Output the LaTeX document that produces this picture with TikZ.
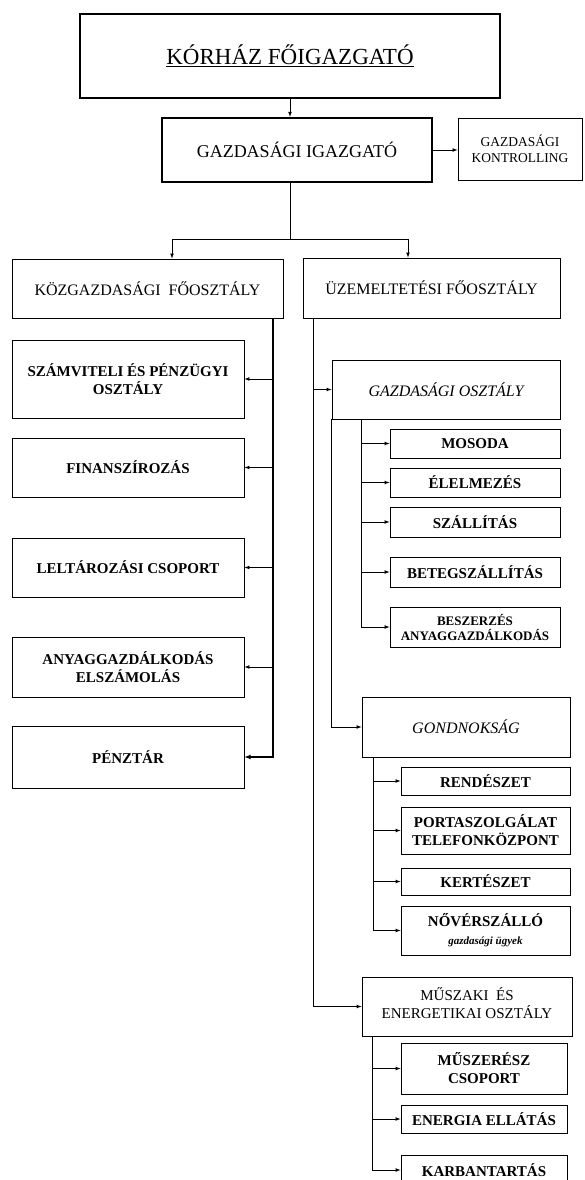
\documentclass[tikz,border=0pt]{standalone}
\usepackage{fontspec}
\setmainfont{Liberation Serif}
\tikzset{
  >=latex,
}
\tikzstyle{head}=[draw,line width=2.4pt,align=center,font=\fontsize{18}{21}\selectfont]
\tikzstyle{unit}=[draw,line width=0.9pt,align=center,inner sep=1pt,font=\fontsize{16}{19}\selectfont]
\tikzstyle{sub}=[unit,font=\bfseries\fontsize{15}{18}\selectfont]
\tikzstyle{link}=[->,line width=0.7pt]
\tikzstyle{spine}=[->,line width=1.1pt]

\begin{document}
\begin{tikzpicture}[x=1pt,y=-1pt]
    \useasboundingbox (0,0) rectangle (584,1180);
    % top level
    \node[head,minimum width=420pt,minimum height=84pt,font=\fontsize{23}{26}\selectfont]
      (fo) at (290,56) {\underline{KÓRHÁZ FŐIGAZGATÓ}};
    \node[head,minimum width=270pt,minimum height=64pt] (gi) at (297,150) {GAZDASÁGI IGAZGATÓ};
    \node[unit,minimum width=124pt,minimum height=62pt,font=\fontsize{13.5}{16}\selectfont]
      (gk) at (520,149) {GAZDASÁGI\\KONTROLLING};
    \draw[link] (fo.south) -- (fo.south |- gi.north);
    \draw[link] (gi.east) -- (gi.east -| gk.west);

    % the two main departments
    \node[unit,minimum width=271pt,minimum height=59pt] (kf) at (147.5,288.5) {KÖZGAZDASÁGI\ \ FŐOSZTÁLY};
    \node[unit,minimum width=257pt,minimum height=60pt] (uf) at (431.5,288) {ÜZEMELTETÉSI FŐOSZTÁLY};
    \coordinate (split) at (290,239);
    \coordinate (kfin) at (172,0);
    \coordinate (ufin) at (408,0);
    \draw[line width=0.7pt] (fo.south |- gi.south) -- (split);
    \draw[link] (split) -| (kfin |- kf.north);
    \draw[link] (split) -| (ufin |- uf.north);

    % left column
    \node[sub,minimum width=232pt,minimum height=78pt] (szamv) at (128,379) {SZÁMVITELI ÉS PÉNZÜGYI\\OSZTÁLY};
    \node[sub,minimum width=232pt,minimum height=59pt] (fin) at (128,467.5) {FINANSZÍROZÁS};
    \node[sub,minimum width=232pt,minimum height=59pt] (lelt) at (128,567.5) {LELTÁROZÁSI CSOPORT};
    \node[sub,minimum width=232pt,minimum height=60pt] (anyag) at (128,667) {ANYAGGAZDÁLKODÁS\\ELSZÁMOLÁS};
    \node[sub,minimum width=232pt,minimum height=62pt] (penz) at (128,757) {PÉNZTÁR};
    \coordinate (kspine) at (273,0);
    \draw[spine] (kspine |- kf.south) |- (penz.east);
    \draw[link] (kspine |- szamv.east) -- (szamv.east);
    \draw[link] (kspine |- fin.east) -- (fin.east);
    \draw[link] (kspine |- lelt.east) -- (lelt.east);
    \draw[link] (kspine |- anyag.east) -- (anyag.east);

    % right column
    \node[unit,minimum width=228pt,minimum height=59pt,font=\itshape\fontsize{16}{19}\selectfont]
      (gazd) at (446,389.5) {GAZDASÁGI OSZTÁLY};
    \node[unit,minimum width=208pt,minimum height=60pt,font=\itshape\fontsize{16}{19}\selectfont]
      (gond) at (466,727) {GONDNOKSÁG};
    \node[unit,minimum width=210pt,minimum height=59pt,font=\fontsize{15}{18}\selectfont,text height=24pt]
      (msz) at (467,1006.5) {MŰSZAKI\ \ ÉS\\ENERGETIKAI OSZTÁLY};
    \coordinate (uspine) at (313,0);
    \draw[link] (uspine |- uf.south) |- (msz.west);
    \draw[link] (uspine |- gazd.west) -- (gazd.west);
    \draw[link] (gazd.south west) |- (gond.west);

    % gazdasagi osztaly
    \node[sub,minimum width=170pt,minimum height=29pt] (mos) at (475,443.5) {MOSODA};
    \node[sub,minimum width=170pt,minimum height=29pt] (elel) at (475,482.5) {ÉLELMEZÉS};
    \node[sub,minimum width=170pt,minimum height=30pt] (szall) at (475,522) {SZÁLLÍTÁS};
    \node[sub,minimum width=170pt,minimum height=30pt] (beteg) at (475,572) {BETEGSZÁLLÍTÁS};
    \node[sub,minimum width=170pt,minimum height=40pt,font=\bfseries\fontsize{13}{15}\selectfont]
      (besz) at (475,627) {BESZERZÉS\\ANYAGGAZDÁLKODÁS};
    \coordinate (gspine) at (361,0);
    \draw[link] (gspine |- gazd.south) |- (besz.west);
    \draw[link] (gspine |- mos.west) -- (mos.west);
    \draw[link] (gspine |- elel.west) -- (elel.west);
    \draw[link] (gspine |- szall.west) -- (szall.west);
    \draw[link] (gspine |- beteg.west) -- (beteg.west);

    % gondnoksag
    \node[sub,minimum width=169pt,minimum height=28pt] (rend) at (485.5,781) {RENDÉSZET};
    \node[sub,minimum width=169pt,minimum height=47pt] (porta) at (485.5,830.5) {PORTASZOLGÁLAT\\TELEFONKÖZPONT};
    \node[sub,minimum width=169pt,minimum height=27pt] (kert) at (485.5,881.5) {KERTÉSZET};
    \node[sub,minimum width=169pt,minimum height=49pt] (nover) at (485.5,930.5)
      {NŐVÉRSZÁLLÓ\\{\itshape\fontsize{11}{13}\selectfont gazdasági ügyek}};
    \coordinate (nspine) at (373,0);
    \draw[link] (nspine |- gond.south) |- (nover.west);
    \draw[link] (nspine |- rend.west) -- (rend.west);
    \draw[link] (nspine |- porta.west) -- (porta.west);
    \draw[link] (nspine |- kert.west) -- (kert.west);

    % muszaki osztaly
    \node[sub,minimum width=166pt,minimum height=51pt] (muszer) at (484,1068.5) {MŰSZERÉSZ\\CSOPORT};
    \node[sub,minimum width=166pt,minimum height=28pt] (energ) at (484,1119) {ENERGIA ELLÁTÁS};
    \node[sub,minimum width=166pt,minimum height=30pt] (karb) at (484,1170) {KARBANTARTÁS};
    \coordinate (mspine) at (372,0);
    \draw[link] (mspine |- msz.south) |- (karb.west);
    \draw[link] (mspine |- muszer.west) -- (muszer.west);
    \draw[link] (mspine |- energ.west) -- (energ.west);
  \end{tikzpicture}
\end{document}
